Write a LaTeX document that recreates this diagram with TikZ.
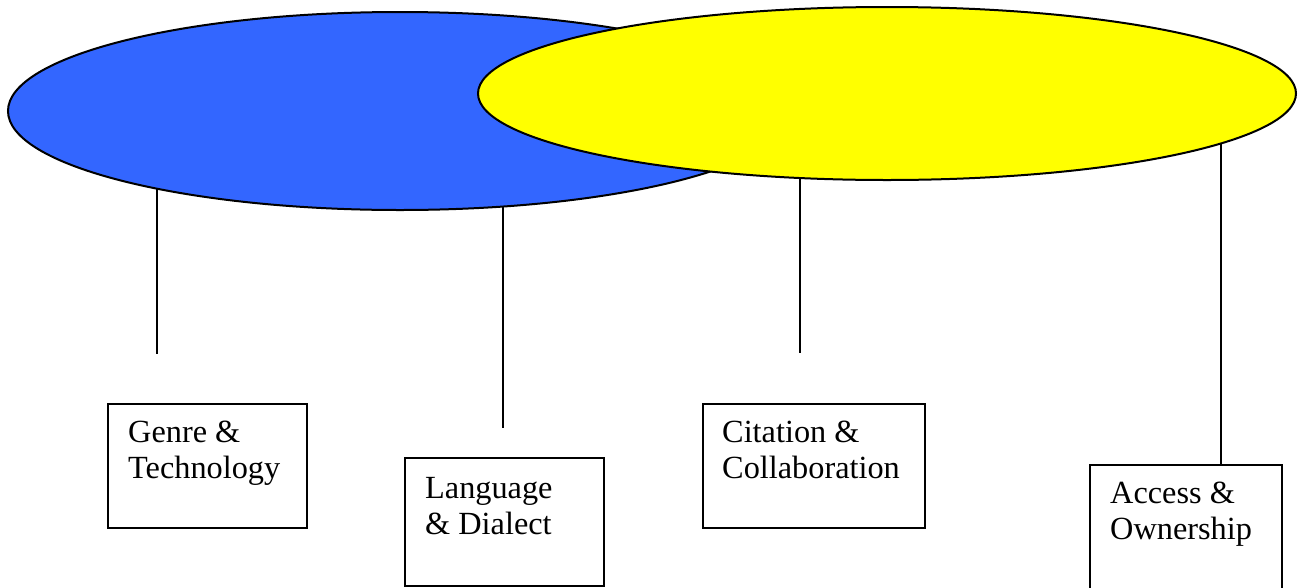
\documentclass[tikz,border=0pt]{standalone}
\usepackage{fontspec}
\setmainfont{Liberation Serif}
\usetikzlibrary{shapes.geometric}
\definecolor{blobblue}{HTML}{3366FF}
\definecolor{blobyellow}{HTML}{FFFF00}
\begin{document}
\begin{tikzpicture}[x=1pt,y=-1pt,
  blob/.style={ellipse,draw=black,line width=2pt,inner sep=0pt},
  labelbox/.style={draw=black,line width=1.7pt,anchor=north west,inner sep=0pt},
  labeltext/.style={anchor=base west,inner sep=0pt,font=\fontsize{32.3}{36}\selectfont},
  stem/.style={draw=black,line width=1.5pt}]
\useasboundingbox (0,0) rectangle (1303,587);
% ellipses
\node[blob,fill=blobblue,minimum width=784pt,minimum height=198pt] (blue) at (400,111) {};
\node[blob,fill=blobyellow,minimum width=818pt,minimum height=173pt] (yellow) at (887,93.5) {};
% boxes
\node[labelbox,minimum width=199pt,minimum height=124pt] (genre) at (107,403) {};
\node[labelbox,minimum width=199pt,minimum height=128pt] (lang) at (404,457) {};
\node[labelbox,minimum width=222pt,minimum height=124pt] (cite) at (702,403) {};
\node[labelbox,minimum width=192pt,minimum height=130pt] (access) at (1089,464) {};
% texts
\node[labeltext] (tgenre) at (128,442) {\vtop{\hbox{Genre \&}\hbox{Technology}}};
\node[labeltext] (tlang) at (425,498) {\vtop{\hbox{Language}\hbox{\& Dialect}}};
\node[labeltext] (tcite) at (722,442) {\vtop{\hbox{Citation \&}\hbox{Collaboration}}};
\node[labeltext] (taccess) at (1110,503) {\vtop{\hbox{Access \&}\hbox{Ownership}}};
% connectors
\coordinate (s1) at (157,188);
\coordinate (e1) at (157,354);
\coordinate (s2) at (503,207);
\coordinate (e2) at (503,428);
\coordinate (s3) at (800,178);
\coordinate (e3) at (800,353);
\coordinate (s4) at (1221,143);
\draw[stem] (s1) -- (e1);
\draw[stem] (s2) -- (e2);
\draw[stem] (s3) -- (e3);
\draw[stem] (s4) -- (s4 |- access.north);
\end{tikzpicture}
\end{document}
